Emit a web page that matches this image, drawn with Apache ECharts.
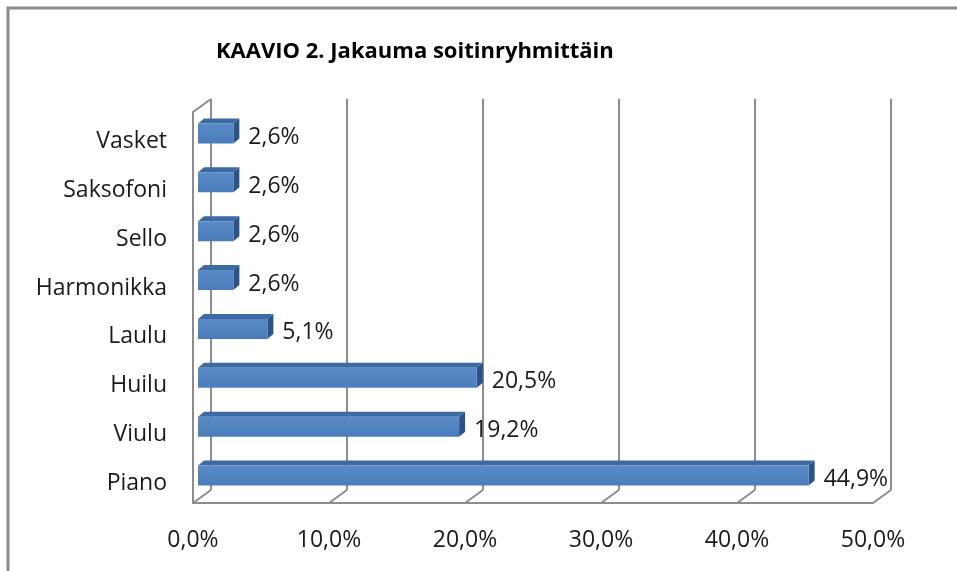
<!DOCTYPE html>
<html><head><meta charset="utf-8">
<script src="https://cdn.jsdelivr.net/npm/echarts@6/dist/echarts.min.js"></script>
<style>html,body{margin:0;padding:0;background:#fff}#c{width:957px;height:571px}</style>
</head><body><div id="c"></div>
<script>
var categories = ['Piano','Viulu','Huilu','Laulu','Harmonikka','Sello','Saksofoni','Vasket'];
var values = [44.9, 19.2, 20.5, 5.1, 2.6, 2.6, 2.6, 2.6];
var ticks = [0, 10, 20, 30, 40, 50];
var titleText = 'KAAVIO 2. Jakauma soitinryhmittäin';

var FONT = 'Open Sans';
var DX = 18, DY = -13;      // wall depth
var BDX = 6, BDY = -5;      // bar depth
var fmt = function (v) { return v.toFixed(1).replace('.', ',') + '%'; };

var chart = echarts.init(document.getElementById('c'), null, {renderer: 'canvas'});
var option = {
  animation: false,
  title: {text: titleText, left: 211, top: 36,
    textStyle: {fontFamily: FONT, fontWeight: 'bold', fontSize: 22, color: '#000'}},
  graphic: [{type: 'rect', shape: {x: 8, y: 8, width: 1000, height: 1000},
    style: {fill: 'none', stroke: '#8a8a8a', lineWidth: 3}, silent: true}],
  grid: [
    {left: 211, top: 99, width: 680, height: 391},
    {left: 193, top: 112, width: 680, height: 391},
    {left: 198, top: 109, width: 680, height: 391}
  ],
  xAxis: [
    {gridIndex: 0, type: 'value', min: 0, max: 50, interval: 10,
      axisLabel: {show: false}, axisLine: {show: false}, axisTick: {show: false},
      splitLine: {show: true, lineStyle: {color: '#8c8c8c', width: 2}}},
    {gridIndex: 1, type: 'value', min: 0, max: 50, interval: 10,
      axisLabel: {show: true, formatter: function (v) { return fmt(v); }, margin: 26,
        fontFamily: FONT, fontSize: 23, color: '#1a1a1a'},
      axisLine: {show: true, lineStyle: {color: '#8c8c8c', width: 2}},
      axisTick: {show: false}, splitLine: {show: false}},
    {gridIndex: 2, type: 'value', min: 0, max: 50, interval: 10, show: false,
      splitLine: {show: false}}
  ],
  yAxis: [
    {gridIndex: 0, type: 'category', data: categories, show: false},
    {gridIndex: 1, type: 'category', data: categories,
      axisLabel: {margin: 26, formatter: function (v) { return '{a|' + v + '}'; },
        rich: {a: {fontFamily: FONT, fontSize: 23, color: '#1a1a1a', padding: [10, 0, 0, 0]}}},
      axisLine: {show: true, lineStyle: {color: '#8c8c8c', width: 2}},
      axisTick: {show: false}},
    {gridIndex: 2, type: 'category', data: categories, show: false}
  ],
  series: [
    {
      type: 'custom', xAxisIndex: 1, yAxisIndex: 1, silent: true,
      data: ticks.map(function (t) { return [t]; }),
      renderItem: function (params, api) {
        var cs = params.coordSys;
        var x = api.coord([api.value(0), 0])[0];
        var bottom = cs.y + cs.height;
        var ls = {stroke: '#8c8c8c', lineWidth: 2};
        var children = [{type: 'line', shape: {x1: x, y1: bottom, x2: x + DX, y2: bottom + DY}, style: ls}];
        if (api.value(0) === 0) {
          children.push({type: 'line', shape: {x1: x, y1: cs.y, x2: x + DX, y2: cs.y + DY}, style: ls});
        }
        return {type: 'group', children: children};
      }
    },
    {
      type: 'custom', xAxisIndex: 2, yAxisIndex: 2, silent: true,
      data: values.map(function (v, i) { return [v, i]; }),
      renderItem: function (params, api) {
        var v = api.value(0), idx = api.value(1);
        var p0 = api.coord([0, idx]);
        var p1 = api.coord([v, idx]);
        var h = 20;
        var x0 = p0[0], x1 = p1[0], yT = p0[1] - h / 2, yB = p0[1] + h / 2;
        return {type: 'group', children: [
          {type: 'polygon', shape: {points: [[x0, yT], [x0 + BDX, yT + BDY], [x1 + BDX, yT + BDY], [x1, yT]]},
            style: {fill: '#3d6aa3'}},
          {type: 'polygon', shape: {points: [[x1, yT], [x1 + BDX, yT + BDY], [x1 + BDX, yB + BDY], [x1, yB]]},
            style: {fill: '#2d5283'}},
          {type: 'rect', shape: {x: x0, y: yT, width: x1 - x0, height: h},
            style: {fill: new echarts.graphic.LinearGradient(0, 0, 0, 1, [
              {offset: 0, color: '#5a8bc8'}, {offset: 1, color: '#4a7cbb'}])}},
          {type: 'text', style: {text: fmt(v), x: x1 + 15, y: p0[1] + 4, textVerticalAlign: 'middle',
            verticalAlign: 'middle', fontFamily: FONT, fontSize: 23, fill: '#1a1a1a'}}
        ]};
      }
    }
  ]
};
chart.setOption(option);
</script></body></html>
